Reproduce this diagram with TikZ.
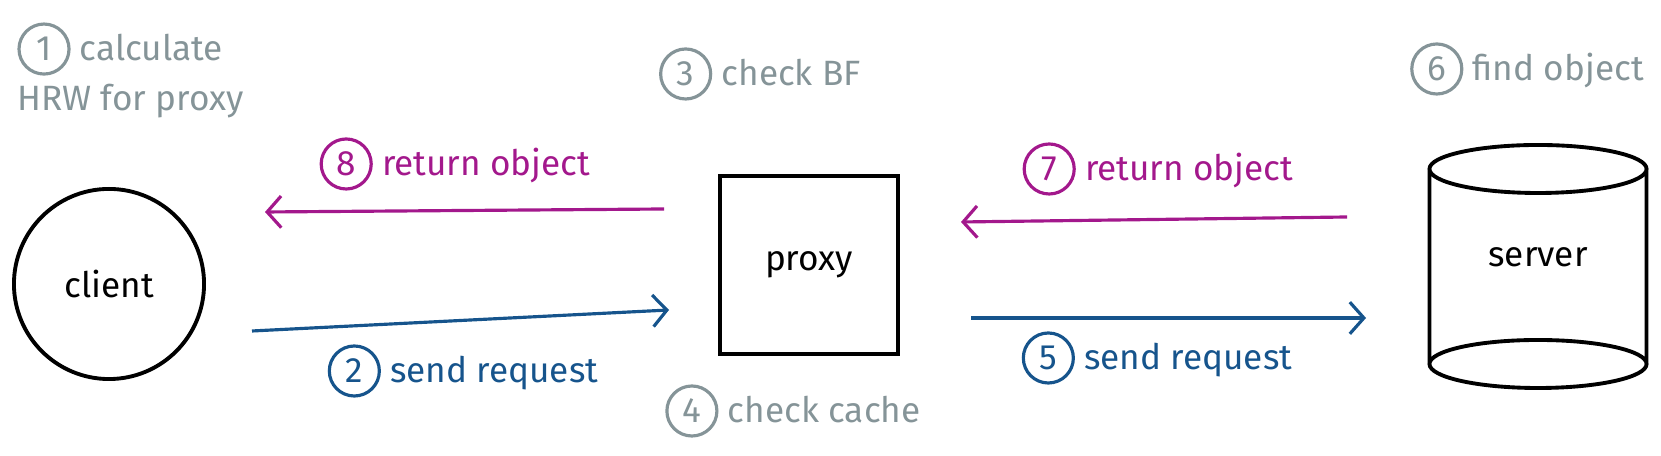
\documentclass[tikz,border=0pt]{standalone}
\usepackage{fontspec}
\setmainfont{Fira Sans}
\usetikzlibrary{arrows.meta}
\definecolor{notegray}{RGB}{133,148,152}
\definecolor{retmag}{RGB}{163,24,140}
\definecolor{reqblue}{RGB}{22,84,140}
\newcommand{\cnum}[1]{\tikz[baseline=(c.base)]\node[circle,draw,line width=.9pt,inner sep=0pt,minimum size=.5cm](c){#1};}
\begin{document}
\begin{tikzpicture}[x=0.01cm,y=-0.01cm,
  every node/.style={font=\fontsize{10}{14}\selectfont},
  note/.style={text=notegray},
  retlbl/.style={text=retmag},
  reqlbl/.style={text=reqblue},
  ret/.style={draw=retmag,line width=.9pt,-{Straight Barb[length=4pt,width=9pt]}},
  req/.style={draw=reqblue,line width=.9pt,-{Straight Barb[length=4pt,width=9pt]}}]
 \useasboundingbox (0,0) rectangle (1661,456);
 % hosts
 \node[draw,circle,line width=1.1pt,minimum size=1.9cm] (client) at (109,284) {client};
 \node[draw,line width=1.1pt,minimum size=1.78cm] (proxy) at (809,265) {proxy};
 \node (server) at (1538,257) {server};
 \draw[line width=1.1pt] (1538,169) ellipse [x radius=1.085cm,y radius=0.24cm]
   (1538,364) ellipse [x radius=1.085cm,y radius=0.24cm]
   (1429.5,169)--(1429.5,364) (1646.5,169)--(1646.5,364);
 % notes
 \node[note,anchor=west,align=left] (calc) at (5,70) {\cnum{1} calculate\\HRW for proxy};
 \node[note] (bf) at (760,74) {\cnum{3} check BF};
 \node[note] (cache) at (793,411) {\cnum{4} check cache};
 \node[note] (find) at (1527,69) {\cnum{6} find object};
 \node[retlbl] (ret8) at (455,164) {\cnum{8} return object};
 \node[retlbl] (ret7) at (1158,169) {\cnum{7} return object};
 \node[reqlbl] (req2) at (463,371) {\cnum{2} send request};
 \node[reqlbl] (req5) at (1157,358) {\cnum{5} send request};
 % messages
 \coordinate (a8) at (664,209); \coordinate (b8) at (265,212);
 \coordinate (a2) at (252,331); \coordinate (b2) at (669,310);
 \coordinate (a7) at (1347,217); \coordinate (b7) at (961,222);
 \coordinate (a5) at (971,318); \coordinate (b5) at (1366,318);
 \draw[ret] (a8)--(b8);
 \draw[req] (a2)--(b2);
 \draw[ret] (a7)--(b7);
 \draw[req] (a5)--(b5);
\end{tikzpicture}
\end{document}
